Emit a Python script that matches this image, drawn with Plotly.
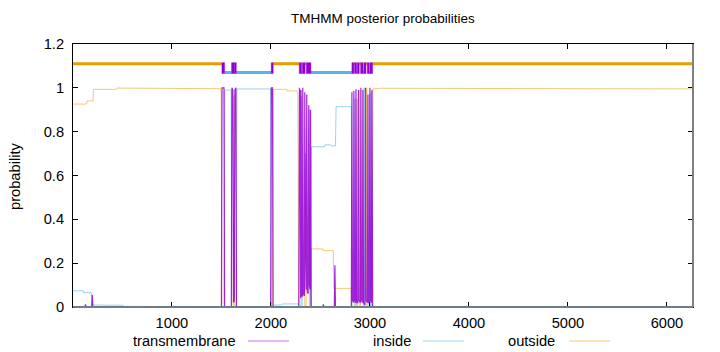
import plotly.graph_objects as go

# ---------------- data ----------------
SEQ_LEN = 6263

TM_POS = [1, 120, 127, 134, 190, 196, 202, 1500, 1506, 1526, 1532, 1600, 1606, 1616, 1622,
          1630, 1636, 1646, 1652, 1998, 2004, 2016, 2022, 2282, 2288, 2294, 2300, 2304, 2310,
          2318, 2322, 2328, 2338, 2342, 2348, 2356, 2362, 2368, 2376, 2382, 2388, 2396, 2400,
          2406, 2524, 2530, 2536, 2640, 2646, 2652, 2812, 2818, 2824, 2834, 2838, 2844, 2854,
          2859, 2865, 2878, 2884, 2890, 2904, 2909, 2915, 2924, 2929, 2935, 2950, 2955, 2961,
          2975, 2980, 2986, 2995, 3000, 3006, 3015, 3020, 3028, 6263]
TM_VAL = [0.0, 0.0, 0.012, 0.0, 0.0, 0.055, 0.0, 0.0, 1.0, 1.0, 0.0, 0.0, 1.0, 0.99, 0.02,
          0.03, 0.99, 1.0, 0.0, 0.0, 1.0, 1.0, 0.0, 0.0, 1.0, 0.98, 0.04, 0.99, 0.05,
          0.05, 1.0, 0.06, 0.05, 0.98, 0.3, 0.08, 0.97, 0.07, 0.06, 0.92, 0.1, 0.08, 0.9,
          0.0, 0.0, 0.012, 0.0, 0.0, 0.19, 0.0, 0.0, 0.98, 0.03, 0.02, 0.985, 0.03, 0.02,
          0.993, 0.02, 0.02, 0.99, 0.03, 0.02, 1.0, 0.03, 0.02, 0.99, 0.02, 0.01, 1.0, 0.03,
          0.02, 0.97, 0.02, 0.02, 1.0, 0.03, 0.02, 0.99, 0.0, 0.0]

IN_POS = [1, 104, 108, 186, 194, 500, 520, 1500, 1506, 1526, 1534, 1598, 1604, 1650, 1656,
          1996, 2002, 2022, 2028, 2110, 2116, 2278, 2284, 2304, 2310, 2316, 2388, 2394, 2400,
          2404, 2410, 2540, 2545, 2600, 2608, 2652, 2658, 2812, 2818, 2842, 2848, 2854, 2934,
          2940, 2946, 2990, 2996, 3002, 3008, 3012, 3018, 6263]
IN_VAL = [0.074, 0.074, 0.065, 0.065, 0.009, 0.008, 0.003, 0.003, 0.0, 0.0, 0.99, 0.99, 0.0, 0.0, 0.995,
          0.995, 0.0, 0.0, 0.009, 0.009, 0.014, 0.014, 0.0, 0.0, 0.96, 0.0, 0.0, 0.9, 0.05,
          0.0, 0.731, 0.731, 0.74, 0.74, 0.735, 0.735, 0.914, 0.914, 0.0, 0.0, 0.95, 0.0, 0.0,
          1.0, 0.0, 0.0, 0.97, 0.0, 0.0, 0.98, 0.0, 0.0]

OUT_POS = [1, 138, 142, 203, 208, 440, 445, 1047, 1052, 1490, 1498, 1504, 1620, 1626, 1632,
           2018, 2024, 2160, 2165, 2262, 2272, 2280, 2342, 2350, 2356, 2404, 2410, 2525, 2530,
           2630, 2636, 2812, 2818, 2864, 2870, 2876, 2893, 2899, 2905, 2962, 2968, 2974, 3022,
           3030, 3100, 6148, 6152, 6263]
OUT_VAL = [0.926, 0.926, 0.94, 0.94, 0.993, 0.993, 0.999, 0.999, 0.996, 0.996, 0.98, 0.0, 0.0, 0.964, 0.0,
           0.0, 0.993, 0.993, 0.986, 0.986, 0.97, 0.0, 0.0, 0.70, 0.0, 0.0, 0.265, 0.265, 0.257,
           0.257, 0.085, 0.085, 0.0, 0.0, 0.95, 0.0, 0.0, 0.99, 0.0, 0.0, 1.0, 0.0, 0.0,
           0.995, 0.998, 0.998, 0.995, 0.995]

# predicted topology (segment starts and labels)
TOPO_START = [1, 1505, 1532, 1603, 1627, 1630, 1650, 2003, 2023, 2286, 2310, 2318, 2345, 2358,
              2404, 2818, 2838, 2845, 2865, 2872, 2892, 2906, 2932, 2940, 2960, 2973, 2993,
              3000, 3027]
TOPO_LABEL = ["outside", "TMhelix", "inside", "TMhelix", "outside", "TMhelix", "inside",
              "TMhelix", "outside", "TMhelix", "inside", "TMhelix", "outside", "TMhelix",
              "inside", "TMhelix", "outside", "TMhelix", "inside", "TMhelix", "outside",
              "TMhelix", "inside", "TMhelix", "outside", "TMhelix", "inside", "TMhelix",
              "outside"]
TOPO_END = TOPO_START[1:] + [SEQ_LEN]

SERIES_NAMES = ["transmembrane", "inside", "outside"]
X_TICKS = [1000, 2000, 3000, 4000, 5000, 6000]
X_TICK_TEXT = ["1000", "2000", "3000", "4000", "5000", "6000"]
Y_TICKS = [0, 0.2, 0.4, 0.6, 0.8, 1.0, 1.2]
Y_TICK_TEXT = ["0", "0.2", "0.4", "0.6", "0.8", "1", "1.2"]

# ---------------- styles ----------------
C_TM = "148,0,211"
C_IN = "86,180,233"
C_OUT = "230,159,0"
Y_OUT_BAR = 1.11
Y_IN_BAR = 1.07
FS = 14.67
FS_TITLE = 13.5

fig = go.Figure()

# posterior probability curves
fig.add_trace(go.Scatter(x=IN_POS, y=IN_VAL, mode="lines",
                         line=dict(color=f"rgba({C_IN},0.6)", width=1), hoverinfo="skip"))
fig.add_trace(go.Scatter(x=OUT_POS, y=OUT_VAL, mode="lines",
                         line=dict(color=f"rgba({C_OUT},0.55)", width=1), hoverinfo="skip"))
fig.add_trace(go.Scatter(x=TM_POS, y=TM_VAL, mode="lines",
                         line=dict(color=f"rgba({C_TM},0.85)", width=1.2), hoverinfo="skip"))

# topology bar on top
out_x, out_y, in_x, in_y, tm_x, tm_y = [], [], [], [], [], []
for s, e, lab in zip(TOPO_START, TOPO_END, TOPO_LABEL):
    if lab == "outside":
        out_x += [s, e, None]
        out_y += [Y_OUT_BAR, Y_OUT_BAR, None]
    elif lab == "inside":
        in_x += [s, e, None]
        in_y += [Y_IN_BAR, Y_IN_BAR, None]
    else:
        tm_x += [s, e, e, s, s, None]
        tm_y += [Y_IN_BAR - 0.005, Y_IN_BAR - 0.005, Y_OUT_BAR + 0.005, Y_OUT_BAR + 0.005,
                 Y_IN_BAR - 0.005, None]

fig.add_trace(go.Scatter(x=out_x, y=out_y, mode="lines",
                         line=dict(color=f"rgb({C_OUT})", width=3), hoverinfo="skip"))
fig.add_trace(go.Scatter(x=in_x, y=in_y, mode="lines",
                         line=dict(color=f"rgb({C_IN})", width=3), hoverinfo="skip"))
fig.add_trace(go.Scatter(x=tm_x, y=tm_y, mode="lines", fill="toself",
                         fillcolor=f"rgb({C_TM})",
                         line=dict(color=f"rgba({C_TM},0.45)", width=1), hoverinfo="skip"))

# ---------------- layout ----------------
L, R, T, B = 73, 27, 44, 45
PW, PH = 720 - L - R, 352 - T - B


def px_x(p):
    return (p - L) / PW


def px_y(p):
    return (352 - B - p) / PH


axis_common = dict(showgrid=False, zeroline=False, showline=True, linecolor="black",
                   linewidth=1, mirror="ticks", ticks="inside", ticklen=5, tickcolor="black",
                   tickfont=dict(size=FS, color="black"))

fig.update_layout(
    width=720, height=352,
    margin=dict(l=L, r=R, t=T, b=B),
    paper_bgcolor="white", plot_bgcolor="white",
    showlegend=False,
    font=dict(family="Liberation Sans, Arial, sans-serif", size=FS, color="black"),
    xaxis=dict(range=[1, SEQ_LEN], tickvals=X_TICKS, ticktext=X_TICK_TEXT,
               ticklabelstandoff=2, **axis_common),
    yaxis=dict(range=[0, 1.2], tickvals=Y_TICKS, ticktext=Y_TICK_TEXT,
               ticklabelstandoff=5, **axis_common),
)

annotations = [
    dict(text="TMHMM posterior probabilities", x=px_x(383), y=px_y(19), xref="paper",
         yref="paper", showarrow=False, xanchor="center", yanchor="middle",
         font=dict(size=FS_TITLE)),
    dict(text="probability", x=px_x(15), y=px_y(177), xref="paper", yref="paper",
         showarrow=False, textangle=-90, xanchor="center", yanchor="middle",
         font=dict(size=FS)),
]
shapes = []
legend_cols = [f"rgba({C_TM},0.55)", f"rgba({C_IN},0.55)", f"rgba({C_OUT},0.55)"]
legend_text_right = [238, 413, 557]
legend_line = [(248, 289), (423, 464), (569, 610)]
for name, col, tr, (l0, l1) in zip(SERIES_NAMES, legend_cols, legend_text_right, legend_line):
    annotations.append(dict(text=name, x=px_x(tr), y=px_y(341), xref="paper", yref="paper",
                            showarrow=False, xanchor="right", yanchor="middle",
                            font=dict(size=FS)))
    shapes.append(dict(type="line", xref="paper", yref="paper", x0=px_x(l0), x1=px_x(l1),
                       y0=px_y(341), y1=px_y(341), line=dict(color=col, width=1)))

# greyish baseline / right frame (overlapping curves at zero)
shapes.append(dict(type="line", xref="paper", yref="paper", x0=0, x1=1, y0=0, y1=0,
                   line=dict(color="rgb(110,125,138)", width=2), layer="above"))
shapes.append(dict(type="line", xref="paper", yref="paper", x0=1, x1=1, y0=0, y1=1,
                   line=dict(color="rgb(128,128,128)", width=2), layer="above"))

fig.update_layout(annotations=annotations, shapes=shapes)

fig.write_html("out.html", config={"displayModeBar": False})
